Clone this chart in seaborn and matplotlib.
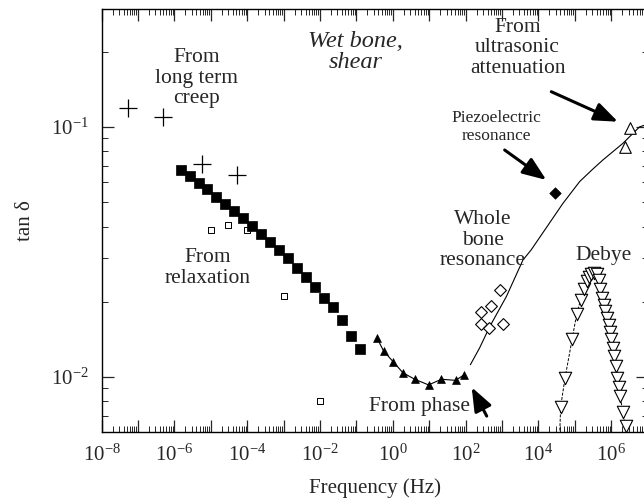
import numpy as np
import matplotlib
matplotlib.use("Agg")
import matplotlib.pyplot as plt
import seaborn as sns
from matplotlib.ticker import LogLocator, FuncFormatter, NullFormatter

# long term creep (+)
creep_f = [5.3e-8, 4.8e-7, 5.7e-6, 5.2e-5]
creep_tan = [0.119, 0.110, 0.071, 0.064]

# relaxation (filled squares)
relax_f = [1.48e-6, 2.61e-6, 4.59e-6, 8.09e-6, 1.43e-5, 2.51e-5, 4.43e-5, 7.8e-5,
           1.37e-4, 2.42e-4, 4.27e-4, 7.52e-4, 1.32e-3, 2.33e-3, 4.11e-3, 7.24e-3,
           1.28e-2, 2.25e-2, 3.96e-2, 6.98e-2, 0.123]
relax_tan = [0.0670, 0.0634, 0.0599, 0.0563, 0.0527, 0.0493, 0.0461, 0.0431,
             0.0402, 0.0375, 0.0348, 0.0322, 0.0298, 0.0274, 0.0251, 0.0229,
             0.0207, 0.0191, 0.0169, 0.0146, 0.0129]

# relaxation, open small squares
relax2_f = [1e-5, 3e-5, 1e-4, 1e-3, 1e-2]
relax2_tan = [0.0389, 0.0406, 0.0387, 0.0210, 0.0080]

# from phase (filled triangles)
phase_f = [0.37, 0.56, 1.03, 1.9, 4.0, 9.6, 21.7, 53, 90]
phase_tan = [0.0143, 0.0127, 0.0115, 0.0104, 0.0098, 0.0093, 0.0098, 0.0097, 0.0102]

# whole bone resonance (open diamonds)
whole_f = [257, 257, 427, 501, 891, 1047]
whole_tan = [0.0182, 0.0163, 0.0157, 0.0193, 0.0223, 0.0163]

# piezoelectric resonance
piezo_f = [2.79e4]
piezo_tan = [0.0546]

# ultrasonic attenuation (open triangles)
ultra_f = [2.45e6, 3.3e6]
ultra_tan = [0.0829, 0.0988]

# solid curve
curve_f = [135, 244, 459, 1320, 3770, 6280, 4.72e4, 1.36e5, 3.0e5, 5.9e5, 2.09e6, 5.96e6, 8.7e6]
curve_tan = [0.0112, 0.0131, 0.0159, 0.0210, 0.0294, 0.0322, 0.0495, 0.0605, 0.0675,
             0.0738, 0.086, 0.100, 0.102]

# Debye peak (open down triangles)
debye_f = [4.08e4, 5.36e4, 8.43e4, 1.12e5, 1.45e5, 1.75e5, 2.11e5, 2.4e5, 2.81e5,
           3.39e5, 4.05e5, 4.65e5, 4.95e5, 5.62e5, 6.17e5, 6.92e5, 7.71e5, 8.47e5,
           9.2e5, 1.005e6, 1.09e6, 1.2e6, 1.35e6, 1.48e6, 1.61e6, 1.79e6, 2.05e6, 2.48e6]
debye_tan = [0.00759, 0.00988, 0.01416, 0.0178, 0.0204, 0.0225, 0.0242, 0.0252, 0.0259,
             0.0260, 0.0258, 0.0244, 0.0226, 0.0208, 0.0195, 0.0183, 0.0172, 0.0161,
             0.0152, 0.0142, 0.0131, 0.0121, 0.0111, 0.00988, 0.00915, 0.00841, 0.00722, 0.00637]
debye_tail_f = [3.7e4]
debye_tail_tan = [0.0050]

sns.set_theme(style="ticks")
plt.rcParams['font.family'] = ['Liberation Serif', 'DejaVu Serif']
plt.rcParams['mathtext.fontset'] = 'custom'
plt.rcParams['mathtext.rm'] = 'Liberation Serif'
plt.rcParams['mathtext.it'] = 'Liberation Serif:italic'

fig = plt.figure(figsize=(6.44, 5.04), dpi=100)
ax = fig.add_axes([0.1578, 0.1429, 0.8478, 0.8393])
ax.set_xscale('log')
ax.set_yscale('log')

# lines
sns.lineplot(x=curve_f, y=curve_tan, ax=ax, color='black', lw=0.8, sort=False, estimator=None)
sns.lineplot(x=phase_f, y=phase_tan, ax=ax, color='black', lw=0.8, sort=False, estimator=None)
sns.lineplot(x=debye_tail_f + debye_f, y=debye_tail_tan + debye_tan, ax=ax, color='black',
             lw=0.7, sort=False, estimator=None, dashes=False, linestyle=(0, (3, 1.5)))

# markers
sns.scatterplot(x=creep_f, y=creep_tan, ax=ax, marker='+', color='black', s=150, linewidth=0.9, zorder=3)
sns.scatterplot(x=relax2_f, y=relax2_tan, ax=ax, marker='s', s=15, facecolor='white',
                edgecolor='black', linewidth=0.7, zorder=3)
sns.scatterplot(x=relax_f, y=relax_tan, ax=ax, marker='s', s=58, color='black',
                edgecolor='black', linewidth=0.5, zorder=4)
sns.scatterplot(x=phase_f, y=phase_tan, ax=ax, marker='^', s=32, color='black',
                edgecolor='black', linewidth=0.5, zorder=4)
sns.scatterplot(x=whole_f, y=whole_tan, ax=ax, marker='D', s=36, facecolor='white',
                edgecolor='black', linewidth=0.8, zorder=4)
sns.scatterplot(x=piezo_f, y=piezo_tan, ax=ax, marker='D', s=34, color='black',
                edgecolor='black', linewidth=0.5, zorder=4)
sns.scatterplot(x=ultra_f, y=ultra_tan, ax=ax, marker='^', s=70, facecolor='white',
                edgecolor='black', linewidth=0.8, zorder=4)
sns.scatterplot(x=debye_f, y=debye_tan, ax=ax, marker='v', s=80, facecolor='white',
                edgecolor='black', linewidth=0.8, zorder=4)

ax.set_xlim(1e-8, 1e7)
ax.set_ylim(0.00603, 0.2965)

ax.xaxis.set_major_locator(LogLocator(base=10, numticks=40))
ax.xaxis.set_minor_locator(LogLocator(base=10, subs=np.arange(2, 10), numticks=400))


def even_decades(v, pos):
    e = int(round(np.log10(v)))
    if e % 2:
        return ''
    return r'$\mathdefault{10^{%d}}$' % e


ax.xaxis.set_major_formatter(FuncFormatter(even_decades))
ax.xaxis.set_minor_formatter(NullFormatter())
ax.yaxis.set_minor_formatter(NullFormatter())

ax.tick_params(which='both', direction='in', top=True, right=True, labelsize=15, pad=9)
ax.tick_params(which='major', length=8.5, width=0.9)
ax.tick_params(which='minor', length=4.5, width=0.7)
for sp in ax.spines.values():
    sp.set_linewidth(1.0)
    sp.set_color('black')

ax.set_xlabel('Frequency (Hz)', fontsize=15, labelpad=9)
ax.set_ylabel('tan δ', fontsize=15, labelpad=12)

# annotations
ax.text(4.17e-6, 0.157, 'From\nlong term\ncreep', fontsize=15.5, ha='center', va='center', linespacing=1.1)
ax.text(0.0962, 0.1995, 'Wet bone,\nshear', fontsize=17.5, style='italic', ha='center', va='center', linespacing=1.0)
ax.text(2690, 0.207, 'From\nultrasonic\nattenuation', fontsize=15.5, ha='center', va='center', linespacing=1.1)
ax.text(713, 0.1, 'Piezoelectric\nresonance', fontsize=12.5, ha='center', va='center', linespacing=1.15)
ax.text(294, 0.0353, 'Whole\nbone\nresonance', fontsize=15.5, ha='center', va='center', linespacing=1.1)
ax.text(6.3e5, 0.0305, 'Debye', fontsize=15.5, ha='center', va='center')
ax.text(8.3e-6, 0.0273, 'From\nrelaxation', fontsize=15.5, ha='center', va='center', linespacing=1.1)
ax.text(5.5, 0.00759, 'From phase', fontsize=15.5, ha='center', va='center')

arrow = dict(arrowstyle='-|>,head_length=0.9,head_width=0.35', color='black', lw=2.2,
             mutation_scale=16, shrinkA=0, shrinkB=0)
ax.annotate('', xy=(1.53e6, 0.105), xytext=(2.26e4, 0.1384), arrowprops=arrow)
ax.annotate('', xy=(1.65e4, 0.0614), xytext=(1183, 0.0809), arrowprops=arrow)
ax.annotate('', xy=(147, 0.0091), xytext=(380, 0.00698), arrowprops=arrow)

fig.savefig('out.png', dpi=100)
